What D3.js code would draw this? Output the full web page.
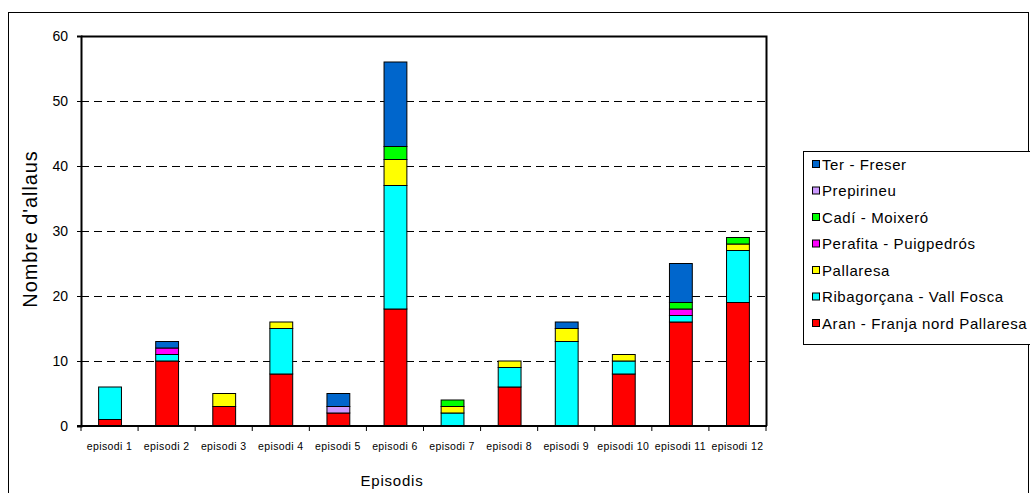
<!DOCTYPE html>
<html>
<head>
<meta charset="utf-8">
<script src="https://cdn.jsdelivr.net/npm/d3@7"></script>
<style>
  body { margin: 0; background: #fff; }
  svg { display: block; font-family: "Liberation Sans", Arial, sans-serif; }
</style>
</head>
<body>
<div id="chart"></div>
<script>
// Avalanche counts per episode, stacked by zone (bottom to top)
const episodes = ["episodi 1", "episodi 2", "episodi 3", "episodi 4", "episodi 5", "episodi 6",
                  "episodi 7", "episodi 8", "episodi 9", "episodi 10", "episodi 11", "episodi 12"];
const zones = ["Aran - Franja nord Pallaresa", "Ribagorçana - Vall Fosca", "Pallaresa",
               "Perafita - Puigpedrós", "Cadí - Moixeró", "Prepirineu", "Ter - Freser"];
const aran       = [1, 10, 3, 8, 2, 18, 0, 6, 0, 8, 16, 19];
const ribagorana = [5, 1, 0, 7, 0, 19, 2, 3, 13, 2, 1, 8];
const pallaresa  = [0, 0, 2, 1, 0, 4, 1, 1, 2, 1, 0, 1];
const perafita   = [0, 1, 0, 0, 0, 0, 0, 0, 0, 0, 1, 0];
const cadi       = [0, 0, 0, 0, 0, 2, 1, 0, 0, 0, 1, 1];
const prepirineu = [0, 0, 0, 0, 1, 0, 0, 0, 0, 0, 0, 0];
const terFreser  = [0, 1, 0, 0, 2, 13, 0, 0, 1, 0, 6, 0];
const yTicks = [0, 10, 20, 30, 40, 50, 60];
const colors = ["#ff0000", "#00ffff", "#ffff00", "#ff00ff", "#00ff00", "#cc99ff", "#0066cc"];

const series = [aran, ribagorana, pallaresa, perafita, cadi, prepirineu, terFreser];

const width = 1030, height = 493,
      margin = ({ top: 36, right: 264, bottom: 67, left: 81 });

// rows for d3.stack
const rows = episodes.map((ep, i) => {
    let r = { episode: ep };
    zones.forEach((z, j) => r[z] = series[j][i]);
    return r;
});
const stacked = d3.stack().keys(zones)(rows);

let svg = d3.select("#chart")
    .append("svg")
    .attr("width", width)
    .attr("height", height);

// outer frame
svg.append("rect")
    .attr("x", 8.5).attr("y", 12.5)
    .attr("width", 1020).attr("height", 490)
    .attr("fill", "none").attr("stroke", "#000").attr("stroke-width", 1);

let x = d3.scaleBand()
    .domain(episodes)
    .range([margin.left, width - margin.right])
    .paddingInner(0.6).paddingOuter(0.3);

let y = d3.scaleLinear()
    .domain([0, 60])
    .range([height - margin.bottom, margin.top]);

// dashed gridlines
svg.append("g")
    .selectAll("line")
    .data(yTicks.filter(t => t > 0 && t < 60))
    .join("line")
    .attr("x1", margin.left).attr("x2", width - margin.right)
    .attr("y1", d => Math.round(y(d)) + 0.5).attr("y2", d => Math.round(y(d)) + 0.5)
    .attr("stroke", "#000").attr("stroke-dasharray", "8,5");

// plot frame (top + right)
svg.append("path")
    .attr("d", `M${margin.left},${margin.top + 0.5}H${width - margin.right + 0.5}V${height - margin.bottom}`)
    .attr("fill", "none").attr("stroke", "#000").attr("stroke-width", 2);

// stacked bars
svg.append("g")
    .selectAll("g")
    .data(stacked)
    .join("g")
    .attr("fill", (d, i) => colors[i])
    .selectAll("rect")
    .data(d => d.filter(v => v[1] > v[0]))
    .join("rect")
    .attr("x", d => x(d.data.episode) + 0.5)
    .attr("width", x.bandwidth())
    .attr("y", d => y(d[1]))
    .attr("height", d => y(d[0]) - y(d[1]))
    .attr("stroke", "#000").attr("stroke-width", 1);

// x axis
let xBand = d3.scalePoint().domain(d3.range(13)).range([margin.left, width - margin.right]);
let xAxis = svg.append("g")
    .attr("transform", `translate(0,${height - margin.bottom})`);
xAxis.append("line")
    .attr("x1", margin.left - 4).attr("x2", width - margin.right + 1)
    .attr("stroke", "#000").attr("stroke-width", 2);
xAxis.selectAll(".tk")
    .data(d3.range(13))
    .join("line")
    .attr("x1", d => xBand(d)).attr("x2", d => xBand(d))
    .attr("y1", 0).attr("y2", 5)
    .attr("stroke", "#000");
xAxis.selectAll("text")
    .data(episodes)
    .join("text")
    .attr("x", d => x(d) + x.bandwidth() / 2)
    .attr("y", 24)
    .attr("text-anchor", "middle")
    .attr("font-size", "10.5px")
    .attr("letter-spacing", "0.4px")
    .text(d => d);

// y axis
svg.append("g")
    .attr("transform", `translate(${margin.left},0)`)
    .call(d3.axisLeft(y).tickValues(yTicks).tickSize(4).tickPadding(9))
    .call(g => g.select(".domain").attr("stroke-width", 2))
    .call(g => g.selectAll("text").attr("font-size", "14px").attr("fill", "#000")
        .attr("font-family", "Liberation Sans, Arial, sans-serif"));

// axis titles
svg.append("text")
    .attr("transform", `translate(37,${(margin.top + height - margin.bottom) / 2 - 2}) rotate(-90)`)
    .attr("text-anchor", "middle")
    .attr("font-size", "20px")
    .attr("letter-spacing", "0.9px")
    .text("Nombre d'allaus");

svg.append("text")
    .attr("x", 392).attr("y", 486)
    .attr("text-anchor", "middle")
    .attr("font-size", "15px")
    .attr("letter-spacing", "0.8px")
    .text("Episodis");

// legend
let legend = svg.append("g");
legend.append("rect")
    .attr("x", 803.5).attr("y", 151.5)
    .attr("width", 240).attr("height", 193)
    .attr("fill", "#fff").attr("stroke", "#000");

let items = legend.selectAll(".item")
    .data(zones.map((z, i) => ({ z, i })).reverse())
    .join("g")
    .attr("transform", (d, k) => `translate(812,${164 + k * 26.5})`);
items.append("rect")
    .attr("x", 0.5).attr("y", -3.5)
    .attr("width", 7).attr("height", 7)
    .attr("fill", d => colors[d.i]).attr("stroke", "#000");
items.append("text")
    .attr("x", 10).attr("y", 5.5)
    .attr("font-size", "15px")
    .attr("letter-spacing", "0.6px")
    .text(d => d.z);
</script>
</body>
</html>
